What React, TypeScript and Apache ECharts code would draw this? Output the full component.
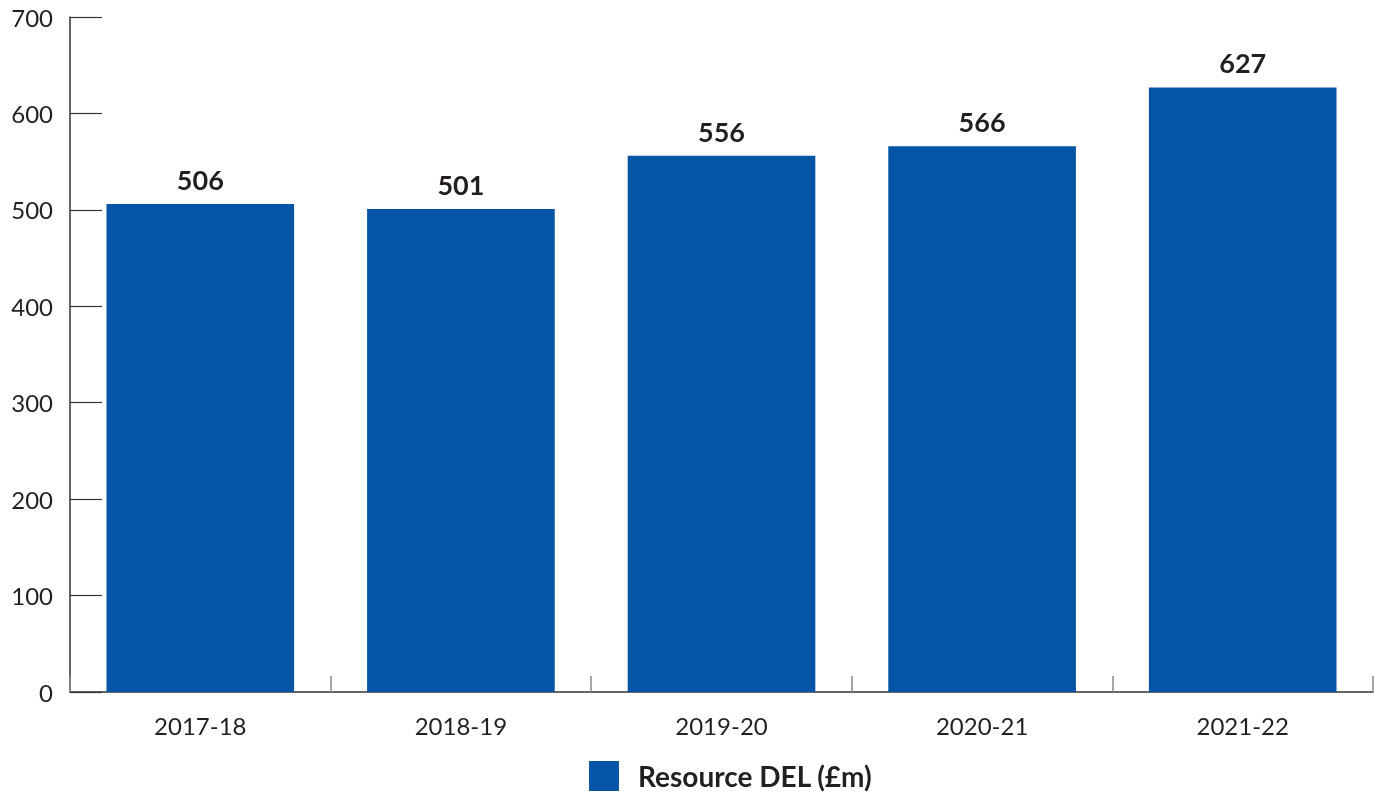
import React, { useEffect, useRef } from "react";
import * as echarts from "echarts";

const categories = ["2017-18", "2018-19", "2019-20", "2020-21", "2021-22"];
const resourceDEL = [506, 501, 556, 566, 627];
const seriesName = "Resource DEL (£m)";

export default function App() {
  const ref = useRef<HTMLDivElement>(null);
  useEffect(() => {
    if (!ref.current) return;
    const chart = echarts.init(ref.current, undefined, { renderer: "svg" });
    chart.setOption({
      animation: false,
      textStyle: { fontFamily: "Lato" },
      grid: { left: 70, right: 8, top: 17, bottom: 101, containLabel: false },
      legend: {
        data: [{ name: seriesName, icon: "rect" }],
        top: 761,
        left: 589,
        padding: 0,
        itemWidth: 30,
        itemHeight: 30,
        itemGap: 0,
        textStyle: { fontSize: 28, fontWeight: "bold", color: "#231f20", fontFamily: "Lato", padding: [0, 0, 0, 14] },
      },
      xAxis: {
        type: "category",
        data: categories,
        axisLine: { lineStyle: { color: "#333", width: 1.5 } },
        axisTick: { show: true, inside: true, length: 16, lineStyle: { color: "#888", width: 1.5 } },
        axisLabel: { fontSize: 24, color: "#231f20", margin: 21 },
      },
      yAxis: {
        type: "value",
        min: 0,
        max: 700,
        interval: 100,
        axisLine: { show: true, lineStyle: { color: "#333", width: 1.5 } },
        axisTick: { show: true, inside: true, length: 32, lineStyle: { color: "#333", width: 1.2 } },
        splitLine: { show: false },
        axisLabel: { fontSize: 24, color: "#231f20", margin: 17 },
      },
      series: [
        {
          name: seriesName,
          type: "bar",
          data: resourceDEL,
          barWidth: "72%",
          itemStyle: { color: "#0455A6" },
          label: {
            show: true,
            position: "top",
            distance: 11,
            fontSize: 27,
            fontWeight: "bold",
            color: "#231f20",
            fontFamily: "Lato",
          },
        },
      ],
    });
    return () => chart.dispose();
  }, []);
  return <div ref={ref} style={{ position: "fixed", left: 0, top: 0, width: 1381, height: 793 }} />;
}
